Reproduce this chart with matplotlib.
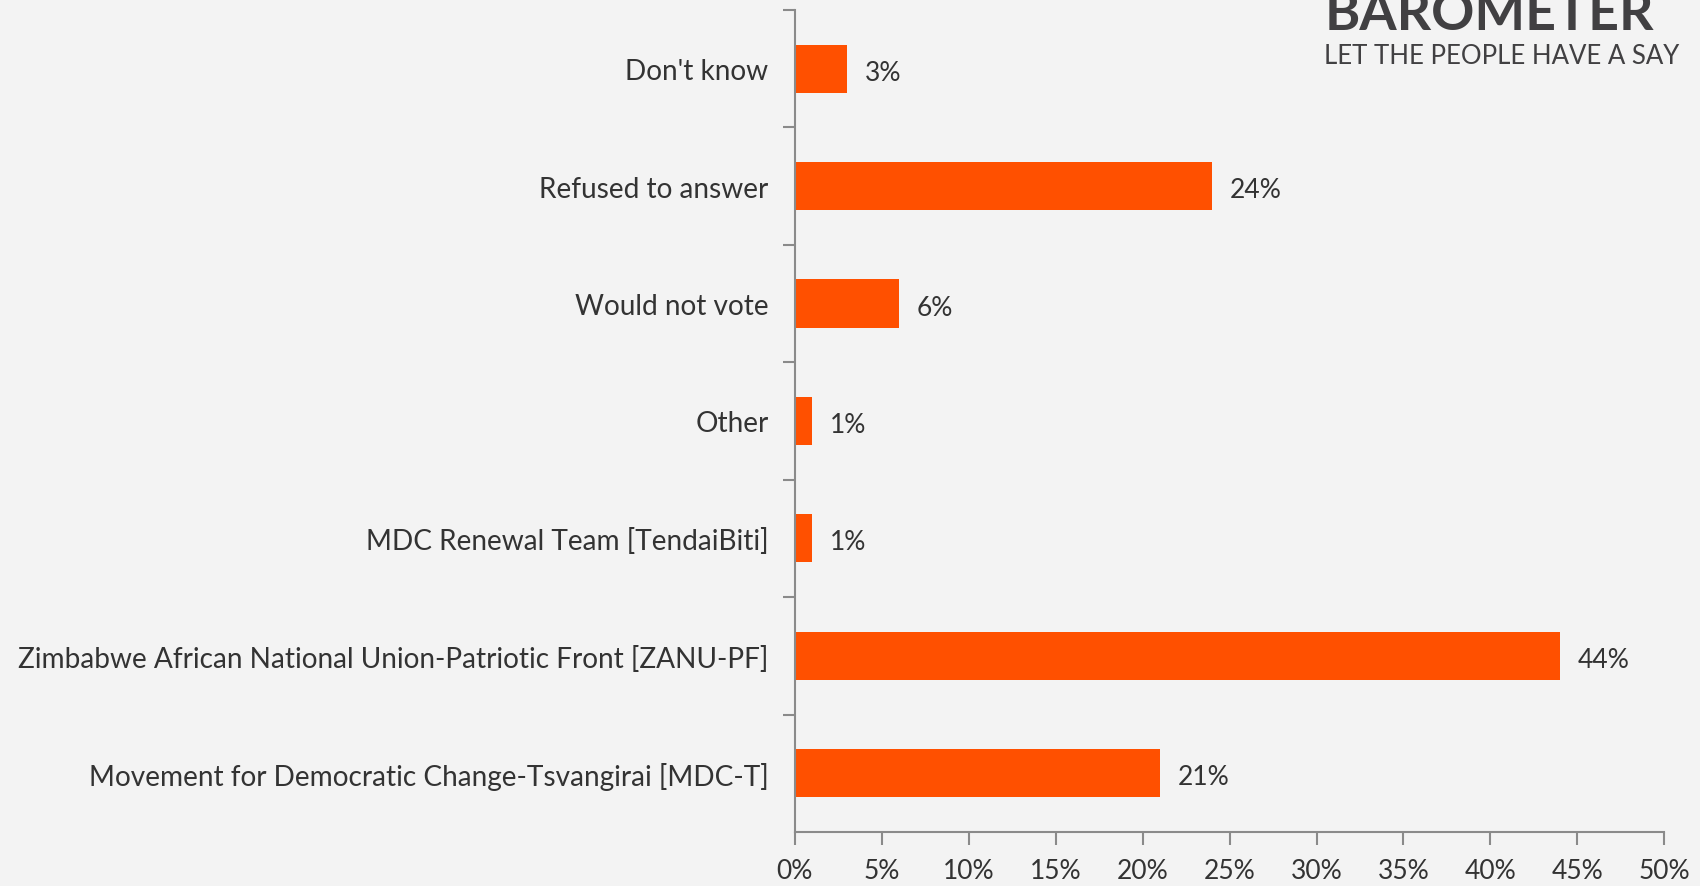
import matplotlib.pyplot as plt
from matplotlib.ticker import FixedLocator, PercentFormatter

# === DATA ===
categories = [
    "Don't know",
    "Refused to answer",
    "Would not vote",
    "Other",
    "MDC Renewal Team [TendaiBiti]",
    "Zimbabwe African National Union-Patriotic Front [ZANU-PF]",
    "Movement for Democratic Change-Tsvangirai [MDC-T]",
]
values = [3, 24, 6, 1, 1, 44, 21]
x_ticks = [0, 5, 10, 15, 20, 25, 30, 35, 40, 45, 50]

# === STYLE ===
BG = "#f3f3f3"
BAR = "#ff5000"
TEXT = "#333333"
SPINE = "#8a8a8a"
FONT = "Lato"

plt.rcParams["font.family"] = [FONT, "DejaVu Sans"]

fig = plt.figure(figsize=(17, 8.87), dpi=100, facecolor=BG)
ax = fig.add_axes([0.4676, 0.0609, 0.979 - 0.4676, 0.9876 - 0.0609])
ax.set_facecolor(BG)

pos = list(range(len(categories)))
ax.barh(pos, values, height=0.41, color=BAR)
ax.set_ylim(len(categories) - 0.5, -0.5)
ax.set_xlim(0, 50)

for p, v in zip(pos, values):
    ax.text(v + 1.0, p + 0.03, f"{v}%", va="center", ha="left", fontsize=19, color=TEXT)

ax.set_yticks(pos)
ax.set_yticklabels(categories, fontsize=20.2, color=TEXT)
ax.tick_params(axis="y", which="major", length=0, pad=19)
ax.yaxis.set_minor_locator(FixedLocator([p + 0.5 for p in pos[:-1]] + [-0.5]))
ax.tick_params(axis="y", which="minor", length=9, color=SPINE, width=1.5)

ax.set_xticks(x_ticks)
ax.xaxis.set_major_formatter(PercentFormatter(decimals=0))
ax.tick_params(axis="x", length=9, color=SPINE, width=1.5, labelsize=19,
               labelcolor=TEXT, pad=10)

for s in ["top", "right"]:
    ax.spines[s].set_visible(False)
for s in ["left", "bottom"]:
    ax.spines[s].set_color(SPINE)
    ax.spines[s].set_linewidth(1.5)

# logo text, top right (cut by the top edge as in the source slide)
fig.text(0.779, 0.966, "BAROMETER", fontsize=38.6, fontweight="bold",
         color="#414042", ha="left", va="baseline")
fig.text(0.779, 0.928, "LET THE PEOPLE HAVE A SAY", fontsize=18.5,
         color="#414042", ha="left", va="baseline")

fig.savefig("out.png", dpi=100, facecolor=BG)
